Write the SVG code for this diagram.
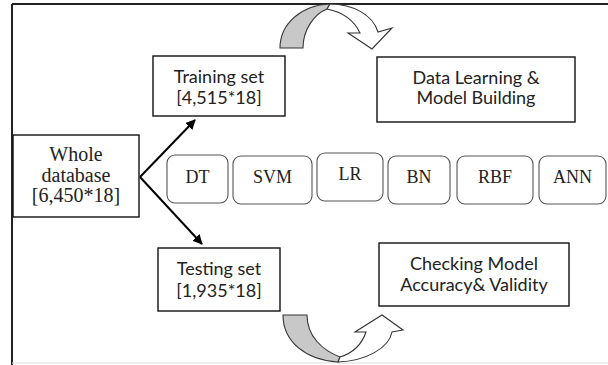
<svg xmlns="http://www.w3.org/2000/svg" width="608" height="365" viewBox="0 0 608 365">
<defs>
<marker id="ah" viewBox="0 0 10 10" refX="9" refY="5" markerWidth="10" markerHeight="10" markerUnits="userSpaceOnUse" orient="auto">
<path d="M0,0 L10,5 L0,10 Z" fill="#000"/>
</marker>
<style>
.box{fill:#fff;stroke:#111;stroke-width:1.4}
.alg{fill:#fff;stroke:#555;stroke-width:1.1}
.sans{font-family:Lato,"Liberation Sans",sans-serif;font-size:18px;fill:#222;text-anchor:middle}
.serif{font-family:"Liberation Serif",serif;font-size:20px;fill:#222;text-anchor:middle}
.algt{font-family:"Liberation Serif",serif;font-size:18px;fill:#222;text-anchor:middle}
.conn{stroke:#000;stroke-width:2;fill:none}
.gray{fill:#c8c8c8;stroke:#333;stroke-width:1.1}
.white{fill:#fff;stroke:#333;stroke-width:1.1}
</style>
</defs>
<rect x="0" y="0" width="608" height="365" fill="#fff"/>
<g id="frame">
<line x1="12" y1="4" x2="608" y2="4" stroke="#222" stroke-width="2"/>
<line x1="12" y1="4" x2="12" y2="365" stroke="#222" stroke-width="2"/>
<line x1="12" y1="363" x2="608" y2="363" stroke="#ddd" stroke-width="1"/>
</g>
<g id="connectors">
<line class="conn" x1="140" y1="177" x2="195" y2="120" marker-end="url(#ah)"/>
<line class="conn" x1="140" y1="177" x2="202" y2="244" marker-end="url(#ah)"/>
</g>
<g id="curved-arrow-top">
<path class="gray" d="M280,48 C280,24 301,5 330,4 L327,9 C314,14 303,30 303,48 Z"/>
<path class="white" d="M330,4 C353,4 373,15 378,32 L392,28 L372,49 L348,33 L360,33 C354,20 342,12 327,9 Z"/>
</g>
<g id="curved-arrow-bottom">
<path class="gray" d="M283,315 C283,342 306,360 338,362 L340,357 C322,350 307,336 307,315 Z"/>
<path class="white" d="M338,362 C366,361 389,348 392,332 L403,330 L382,315 L355,332 L366,332 C362,344 353,353 340,357 Z"/>
</g>
<g id="whole-database">
<rect class="box" x="13" y="135" width="126" height="82"/>
<text class="serif" x="76" y="161">Whole</text>
<text class="serif" x="76" y="182">database</text>
<text class="serif" x="76" y="202">[6,450*18]</text>
</g>
<g id="training-set">
<rect class="box" x="153" y="56" width="132" height="60"/>
<text class="sans" x="219" y="83">Training set</text>
<text class="sans" x="219" y="104">[4,515*18]</text>
</g>
<g id="testing-set">
<rect class="box" x="158" y="248" width="122" height="63"/>
<text class="sans" x="219" y="275">Testing set</text>
<text class="sans" x="219" y="297">[1,935*18]</text>
</g>
<g id="data-learning">
<rect class="box" x="377" y="57" width="198" height="65"/>
<text class="sans" x="476" y="84">Data Learning &amp;</text>
<text class="sans" x="476" y="104">Model Building</text>
</g>
<g id="checking-model">
<rect class="box" x="379" y="243" width="190" height="63"/>
<text class="sans" x="474" y="270">Checking Model</text>
<text class="sans" x="474" y="291">Accuracy&amp; Validity</text>
</g>
<g id="dt">
<rect class="alg" x="167" y="155" width="61" height="48" rx="8"/>
<text class="algt" x="197.5" y="183">DT</text>
</g>
<g id="svm">
<rect class="alg" x="233" y="156" width="79" height="48" rx="8"/>
<text class="algt" x="272.5" y="183">SVM</text>
</g>
<g id="lr">
<rect class="alg" x="317" y="153" width="66" height="48" rx="8"/>
<text class="algt" x="350" y="180">LR</text>
</g>
<g id="bn">
<rect class="alg" x="388" y="156" width="62" height="48" rx="8"/>
<text class="algt" x="419" y="183">BN</text>
</g>
<g id="rbf">
<rect class="alg" x="457" y="156" width="76" height="48" rx="8"/>
<text class="algt" x="495" y="183">RBF</text>
</g>
<g id="ann">
<rect class="alg" x="539" y="156" width="67" height="48" rx="8"/>
<text class="algt" x="572.5" y="183">ANN</text>
</g>
</svg>
